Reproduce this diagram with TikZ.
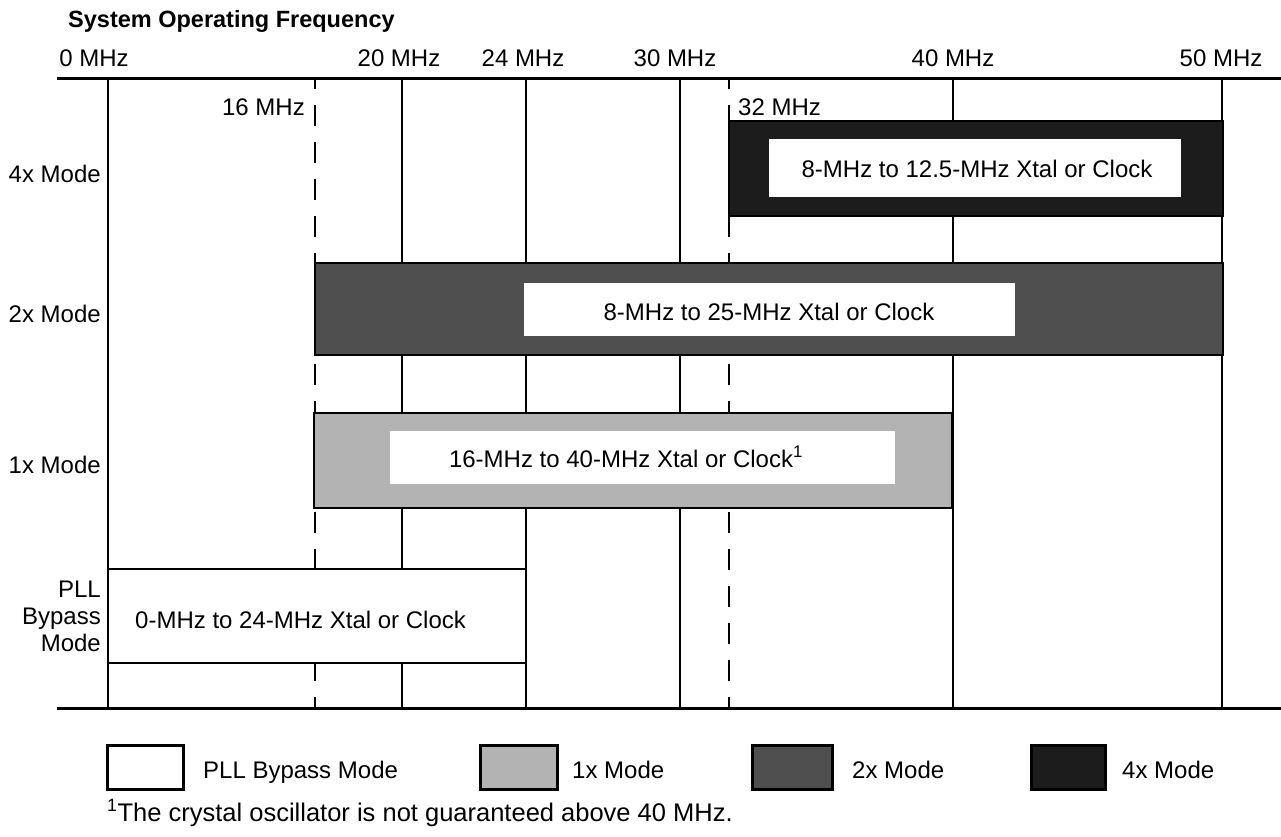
\documentclass[tikz,border=0pt]{standalone}
\usepackage{fontspec}
\setmainfont{Liberation Sans}
\definecolor{cfour}{HTML}{1C1C1C}
\definecolor{ctwo}{HTML}{4F4F4F}
\definecolor{cone}{HTML}{B3B3B3}
\begin{document}
\begin{tikzpicture}[x=1pt,y=-1pt,
  gridline/.style={line width=2pt},
  dashline/.style={line width=2pt, dash pattern=on 21pt off 16pt, dash phase=10pt},
  axisline/.style={line width=3pt},
  barshape/.style={draw=black, line width=2.5pt},
  inbox/.style={fill=white, draw=none},
  legbox/.style={draw=black, line width=3pt},
  lbl/.style={font=\fontsize{24}{28}\selectfont, inner sep=0pt},
  fnote/.style={font=\fontsize{25.5}{30}\selectfont, inner sep=0pt},
  ttl/.style={font=\fontsize{23.5}{28}\selectfont\bfseries, inner sep=0pt}]
\useasboundingbox (0,0) rectangle (1281,836);
\fill[white] (0,0) rectangle (1281,836);
% title
\node[ttl, anchor=base west] (title) at (68,27) {System Operating Frequency};
% axis labels
\node[lbl, anchor=base] (f0) at (94,66) {0 MHz};
\node[lbl, anchor=base] (f20) at (399,66) {20 MHz};
\node[lbl, anchor=base] (f24) at (523,66) {24 MHz};
\node[lbl, anchor=base] (f30) at (675,66) {30 MHz};
\node[lbl, anchor=base] (f40) at (953,66) {40 MHz};
\node[lbl, anchor=base] (f50) at (1221,66) {50 MHz};
\node[lbl, anchor=base east] (f16) at (305,115) {16 MHz};
\node[lbl, anchor=base west] (f32) at (738,115) {32 MHz};
% grid
\foreach \x in {108,402,526,680,953,1222} \draw[gridline] (\x,78) -- (\x,708);
\foreach \x in {315,729} \draw[dashline] (\x,78) -- (\x,708);
\draw[axisline] (57,78) -- (1281,78);
\draw[axisline] (57,708) -- (1281,708);
% row labels
\node[lbl, anchor=base east] (r4) at (101,182) {4x Mode};
\node[lbl, anchor=base east] (r2) at (101,322) {2x Mode};
\node[lbl, anchor=base east] (r1) at (101,473) {1x Mode};
\node[lbl, anchor=base east] (rpa) at (101,597) {PLL};
\node[lbl, anchor=base east] (rpb) at (101,624) {Bypass};
\node[lbl, anchor=base east] (rpc) at (101,651) {Mode};
% 4x bar
\draw[barshape, fill=cfour] (729,121) rectangle (1223,216);
\fill[inbox] (769,139) rectangle (1181,197);
\node[lbl, anchor=base] (t4) at (977,177) {8-MHz to 12.5-MHz Xtal or Clock};
% 2x bar
\draw[barshape, fill=ctwo] (315,263) rectangle (1223,355);
\fill[inbox] (524,283) rectangle (1015,336);
\node[lbl, anchor=base] (t2) at (769,320) {8-MHz to 25-MHz Xtal or Clock};
% 1x bar
\draw[barshape, fill=cone] (314,413) rectangle (952,508);
\fill[inbox] (390,431) rectangle (895,484);
\node[lbl, anchor=base] (t1) at (626,467) {16-MHz to 40-MHz Xtal or Clock\textsuperscript{1}};
% PLL bypass bar
\draw[barshape, line width=2pt, fill=white] (108,569) rectangle (526,663);
\node[lbl, anchor=base west] (tp) at (135,628) {0-MHz to 24-MHz Xtal or Clock};
% legend
\draw[legbox, fill=white] (107,745) rectangle (183,789);
\node[lbl, anchor=base west] (lp) at (203,778) {PLL Bypass Mode};
\draw[legbox, fill=cone] (480,745) rectangle (557,789);
\node[lbl, anchor=base west] (l1) at (572,778) {1x Mode};
\draw[legbox, fill=ctwo] (752,745) rectangle (832,789);
\node[lbl, anchor=base west] (l2) at (852,778) {2x Mode};
\draw[legbox, fill=cfour] (1031,745) rectangle (1105,789);
\node[lbl, anchor=base west] (l4) at (1122,778) {4x Mode};
% footnote
\node[fnote, anchor=base west] (fn) at (107,821) {\textsuperscript{1}The crystal oscillator is not guaranteed above 40 MHz.};
\end{tikzpicture}
\end{document}
